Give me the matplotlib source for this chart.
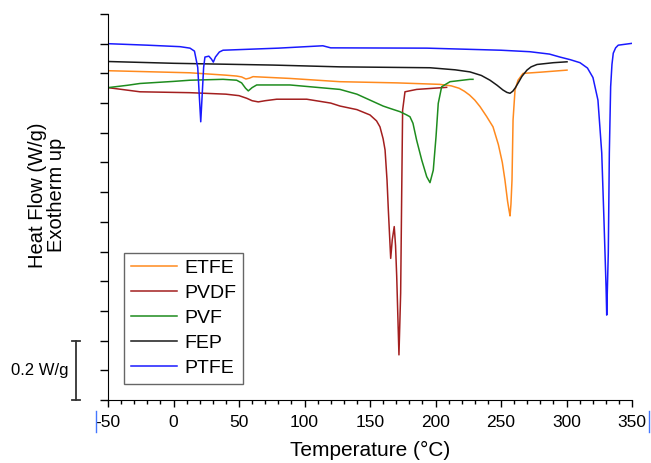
import matplotlib
matplotlib.use('Agg')
import matplotlib.pyplot as plt
from matplotlib.lines import Line2D

plt.rcParams['font.family'] = ['Liberation Sans', 'DejaVu Sans']
plt.rcParams['axes.unicode_minus'] = False

# Datos (temperatura en °C, flujo de calor en W/g con offset)
etfe_t = [-50, 12.6, 40, 48.2, 52, 55.3, 58, 60.7, 88.9, 127.1, 170.6, 203.4, 212, 218,
          222, 226, 230, 234, 239, 243.9, 248, 251, 253, 255, 256.1, 256.9, 257.6, 258.4,
          259.2, 260.7, 263, 266.8, 280, 300.4]
etfe_q = [1.109, 1.102, 1.094, 1.091, 1.088, 1.081, 1.084, 1.089, 1.083, 1.072, 1.068,
          1.063, 1.058, 1.050, 1.040, 1.027, 1.010, 0.988, 0.955, 0.920, 0.860, 0.800,
          0.741, 0.670, 0.640, 0.620, 0.660, 0.741, 0.943, 1.044, 1.077, 1.100, 1.104,
          1.111]

pvdf_t = [-50, -25.6, 12.6, 40, 50, 56, 60, 64.7, 70, 78.8, 101.7, 120, 127.1, 140, 150,
          155, 157.6, 160, 161.5, 163, 164, 165.8, 167, 168.5, 169.5, 170.4, 172.1,
          173.4, 174.2, 174.9, 176.7, 185.6, 208.5]
pvdf_q = [1.052, 1.038, 1.035, 1.030, 1.025, 1.016, 1.008, 1.004, 1.008, 1.013, 1.013,
          1.000, 0.990, 0.978, 0.960, 0.940, 0.920, 0.880, 0.842, 0.740, 0.640, 0.477,
          0.540, 0.584, 0.520, 0.415, 0.152, 0.360, 0.697, 0.976, 1.038, 1.046, 1.053]

pvf_t = [-50, -35, -25.6, 0, 12.6, 37.8, 48.2, 52, 55, 57.1, 60, 63.5, 88.9, 127.1, 140,
         150, 160, 165.3, 172.9, 178, 180.5, 182.8, 185.6, 189.5, 193.3, 195.8, 198.3,
         200.4, 202.1, 204.7, 211.1, 226.3, 228.6]
pvf_q = [1.052, 1.060, 1.066, 1.073, 1.077, 1.080, 1.077, 1.068, 1.050, 1.041, 1.052,
         1.061, 1.061, 1.046, 1.030, 1.010, 0.990, 0.982, 0.971, 0.960, 0.954, 0.932,
         0.875, 0.808, 0.752, 0.732, 0.774, 0.887, 0.999, 1.055, 1.072, 1.080, 1.080]

fep_t = [-50, 0, 76, 127, 195.8, 215, 226.3, 235, 241.6, 247, 251.5, 254.5, 256.9, 259,
         261, 263, 266, 269.8, 273, 277.5, 290, 300.4]
fep_q = [1.140, 1.134, 1.128, 1.122, 1.119, 1.112, 1.105, 1.093, 1.077, 1.060, 1.044,
         1.036, 1.033, 1.040, 1.052, 1.067, 1.090, 1.111, 1.122, 1.130, 1.136, 1.139]

ptfe_t = [-50, -20, 5, 12.6, 16, 18.5, 20, 20.8, 21.8, 23, 24, 27, 29, 30.4, 32, 35, 37.8,
          80, 114, 120, 193.5, 250, 272, 287, 295, 303, 310.3, 316, 320.2, 324.0, 326.9,
          328.6, 330.2, 330.7, 331.9, 332.7, 333.7, 334.7, 335.7, 337.5, 339.5, 349.7]
ptfe_q = [1.200, 1.195, 1.190, 1.185, 1.175, 1.120, 1.000, 0.937, 1.020, 1.120, 1.155,
          1.158, 1.148, 1.138, 1.155, 1.172, 1.178, 1.185, 1.193, 1.186, 1.185, 1.178,
          1.173, 1.165, 1.155, 1.146, 1.136, 1.118, 1.086, 1.010, 0.832, 0.606, 0.381,
          0.286, 0.495, 0.832, 1.055, 1.130, 1.168, 1.186, 1.195, 1.201]

series = [
    ("ETFE", etfe_t, etfe_q, "#FF8A1E"),
    ("PVDF", pvdf_t, pvdf_q, "#A31F1F"),
    ("PVF", pvf_t, pvf_q, "#1E8C1E"),
    ("FEP", fep_t, fep_q, "#1A1A1A"),
    ("PTFE", ptfe_t, ptfe_q, "#1A1AFF"),
]

fig = plt.figure(figsize=(6.51, 4.63), dpi=100)
ax = fig.add_axes([108 / 651, 1 - 400 / 463, 524 / 651, 386 / 463])

for nombre, t, q, color in series:
    ax.plot(t, q, color=color, lw=1.1, label=nombre)

ax.set_xlim(-50, 350)
ax.set_ylim(0, 1.3)
ax.spines['top'].set_visible(False)
ax.spines['right'].set_visible(False)

# Ejes: ticks hacia fuera, eje y sin etiquetas
ax.set_xticks(range(-50, 351, 50))
ax.set_xticks(range(-50, 351, 10), minor=True)
ax.set_yticks([i / 10 for i in range(14)])
ax.set_yticklabels([])
ax.tick_params(axis='x', which='major', length=5, width=1, labelsize=12.5, pad=6)
ax.tick_params(axis='x', which='minor', length=3, width=1)
ax.tick_params(axis='y', length=6, width=1)

ax.set_xlabel("Temperature (°C)", fontsize=15, labelpad=8)
fig.text(47 / 651, 1 - 195 / 463, "Heat Flow (W/g)\nExotherm up", rotation=90,
         ha='center', va='center', multialignment='center', fontsize=14.5,
         linespacing=1.05)

# Barra de escala de 0.2 W/g
ax.plot([-74.4, -74.4], [0, 0.2], color='#333333', lw=1.3, clip_on=False)
for yb in (0, 0.2):
    ax.plot([-77.5, -71.3], [yb, yb], color='#333333', lw=1.3, clip_on=False)
ax.text(-102, 0.1, "0.2 W/g", ha='center', va='center', fontsize=12)

leg = ax.legend(loc='lower left', bbox_to_anchor=(0.0305, 0.0415), borderaxespad=0,
                fontsize=14, handlelength=2.4, handletextpad=0.36, labelspacing=0.38,
                borderpad=0.35, fancybox=False, framealpha=1)
leg.get_frame().set_edgecolor('#666666')
leg.get_frame().set_linewidth(1)

# Marcas azules de seleccion junto a -50 y 350
for xm in (96, 649):
    fig.add_artist(Line2D([xm / 651, xm / 651], [1 - 411 / 463, 1 - 432 / 463],
                          color='#4477FF', lw=1))

fig.savefig("out.png", dpi=100)
